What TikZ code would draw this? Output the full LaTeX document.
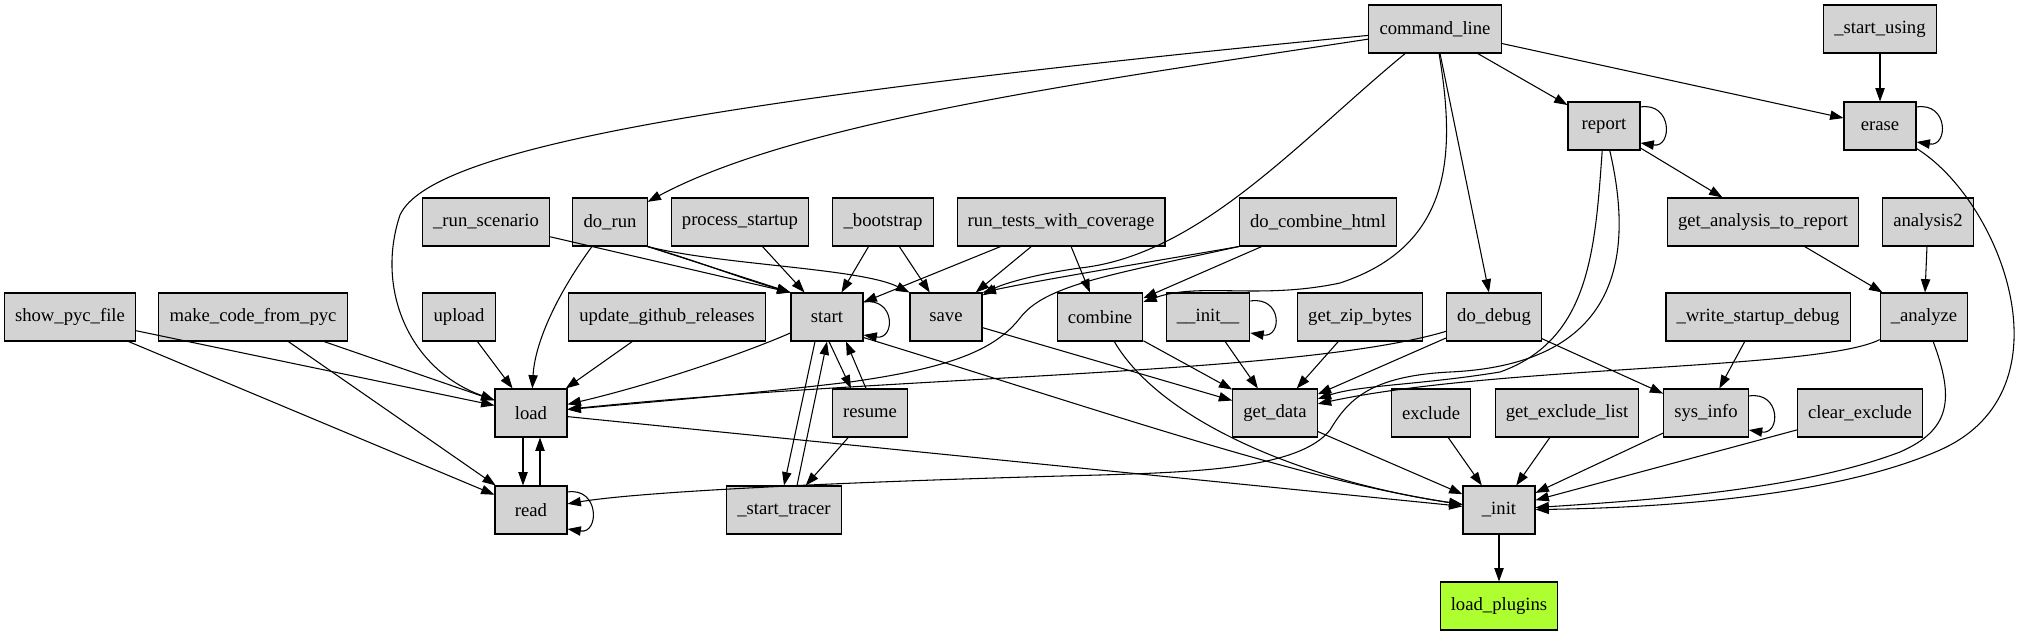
\documentclass[tikz,border=0pt]{standalone}
\usepackage{fontspec}
\setmainfont{Liberation Serif}
\usetikzlibrary{arrows.meta, calc}
\definecolor{fnGrey}{HTML}{D3D3D3}
\definecolor{pluginGreen}{HTML}{ADFF2F}

\begin{document}
\begin{tikzpicture}[x=0.75pt, y=-0.75pt, font=\fontsize{14pt}{16pt}\selectfont,
    fn/.style={draw, line width=0.8pt, fill=fnGrey, minimum width=54pt,
               minimum height=36pt, inner xsep=8pt, inner ysep=0pt},
    call/.style={-{Triangle[length=10pt, width=7pt]}, line width=0.8pt}]
    \useasboundingbox (0,0) rectangle (2026,635);

    \node[fn] (cmdline) at (1435,29) {command\_line};
    \node[fn] (startusing) at (1880,29) {\_start\_using};

    \node[fn] (report) at (1604,126) {report};
    \node[fn] (erase) at (1880,126) {erase};

    \node[fn] (runscen) at (486,222) {\_run\_scenario};
    \node[fn] (dorun) at (610,222) {do\_run};
    \node[fn] (procstart) at (740,222) {process\_startup};
    \node[fn] (bootstrap) at (883,222) {\_bootstrap};
    \node[fn] (runtests) at (1061,222) {run\_tests\_with\_coverage};
    \node[fn] (docombine) at (1318,222) {do\_combine\_html};
    \node[fn] (getanalysis) at (1763,222) {get\_analysis\_to\_report};
    \node[fn] (analysis2) at (1928,222) {analysis2};

    \node[fn] (showpyc) at (70,317) {show\_pyc\_file};
    \node[fn] (makecode) at (253,317) {make\_code\_from\_pyc};
    \node[fn] (upload) at (459,317) {upload};
    \node[fn] (ghrel) at (667,317) {update\_github\_releases};
    \node[fn] (start) at (827,317) {start};
    \node[fn] (save) at (946,317) {save};
    \node[fn] (combine) at (1100,317) {combine};
    \node[fn] (dunderinit) at (1208,317) {\_\_init\_\_};
    \node[fn] (getzip) at (1360,317) {get\_zip\_bytes};
    \node[fn] (dodebug) at (1494,317) {do\_debug};
    \node[fn] (writedebug) at (1758,317) {\_write\_startup\_debug};
    \node[fn] (analyze) at (1924,317) {\_analyze};

    \node[fn] (load) at (531,413) {load};
    \node[fn] (resume) at (870,413) {resume};
    \node[fn] (getdata) at (1275,413) {get\_data};
    \node[fn] (exclude) at (1431,413) {exclude};
    \node[fn] (getexcl) at (1567,413) {get\_exclude\_list};
    \node[fn] (sysinfo) at (1706,413) {sys\_info};
    \node[fn] (clearexcl) at (1860,413) {clear\_exclude};

    \node[fn] (read) at (531,510) {read};
    \node[fn] (starttracer) at (784,510) {\_start\_tracer};
    \node[fn] (init) at (1499,510) {\_init};

    \node[fn, fill=pluginGreen] (plugins) at (1499,606) {load\_plugins};

    \draw[call] (cmdline) .. controls (700,100) and (430,150) .. (400,215)
      .. controls (375,290) and (410,370) .. (load);
    \draw[call] (cmdline) .. controls (1100,80) and (800,120) .. (dorun);
    \draw[call] (cmdline) .. controls (1300,140) and (1200,255) .. (1080,268)
      .. controls (1030,275) and (1000,285) .. (save);
    \draw[call] (cmdline) .. controls (1455,150) and (1455,245) .. (1340,283)
      .. controls (1260,300) and (1200,282) .. (combine);
    \draw[call] (cmdline) -- (report);
    \draw[call] (cmdline) -- (erase);
    \draw[call] (cmdline) -- (dodebug);
    \draw[call] (startusing) -- (erase);
    \draw[call] ($(erase.east)+(0,-19)$) .. controls +(32,-5) and +(32,5) .. ($(erase.east)+(0,16)$);
    \draw[call] (erase) .. controls (2000,200) and (2075,390) .. (1940,450)
      .. controls (1832,498) and (1650,508) .. (init);

    \draw[call] ($(report.east)+(0,-19)$) .. controls +(32,-5) and +(32,5) .. ($(report.east)+(0,17)$);
    \draw[call] (report) -- (getanalysis);
    \draw[call] (report) .. controls (1595,250) and (1590,340) .. (1500,372)
      .. controls (1420,385) and (1360,385) .. (getdata);
    \draw[call] (report) .. controls (1640,280) and (1600,365) .. (1450,372)
      .. controls (1370,376) and (1348,400) .. (1330,430)
      .. controls (1300,468) and (1200,472) .. (1100,475)
      .. controls (900,480) and (650,490) .. (read);
    \draw[call] (getanalysis) -- (analyze);
    \draw[call] (analysis2) -- (analyze);
    \draw[call] (analyze) .. controls (1820,370) and (1500,365) .. (getdata);
    \draw[call] (analyze) .. controls (1955,400) and (1950,430) .. (1900,452)
      .. controls (1800,490) and (1650,500) .. (init);

    \draw[call] (runscen) -- (start.north west);
    \draw[call] (dorun.south east) -- (start.north west);
    \draw[call] (dorun.south east) .. controls (700,262) and (740,278) .. (start.north west);
    \draw[call] (dorun.south east) .. controls (720,265) and (860,268) .. (save.north west);
    \draw[call] (dorun) .. controls (560,290) and (535,340) .. (load);
    \draw[call] (procstart) -- (start);
    \draw[call] (bootstrap) -- (start);
    \draw[call] (bootstrap) -- (save);
    \draw[call] (runtests) -- (start);
    \draw[call] (runtests) -- (save);
    \draw[call] (runtests) -- (combine);
    \draw[call] (docombine.south west) .. controls (1150,262) and (1040,280) .. (save.north east);
    \draw[call] (docombine) -- (combine);
    \draw[call] (docombine.south west) .. controls (1110,275) and (1045,285) .. (1020,318)
      .. controls (995,350) and (950,368) .. (850,382)
      .. controls (750,394) and (650,402) .. (load);

    \draw[call] (showpyc) -- (load);
    \draw[call] (showpyc) -- (read);
    \draw[call] (makecode) -- (load);
    \draw[call] (makecode) -- (read);
    \draw[call] (upload) -- (load);
    \draw[call] (ghrel) -- (load);

    \draw[call] ($(start.east)+(0,-15)$) .. controls +(32,-5) and +(32,5) .. ($(start.east)+(0,18)$);
    \draw[call] (start) .. controls (740,355) and (650,385) .. (load);
    \draw[call] ($(start.south)+(-12,0)$) -- (starttracer.north);
    \draw[call] ($(starttracer.north)+(13,0)$) -- (start.south);
    \draw[call] ($(start.south)+(2,0)$) -- ($(resume.north)+(-19,0)$);
    \draw[call] ($(resume.north)+(-4,0)$) -- ($(start.south)+(19,0)$);
    \draw[call] (resume) -- (starttracer);
    \draw[call] ($(start.south east)+(0,-4)$) .. controls (1100,410) and (1300,480) .. (init);

    \draw[call] (save) -- (getdata);
    \draw[call] (combine) -- (getdata);
    \draw[call] (combine) .. controls (1160,420) and (1300,480) .. (init);
    \draw[call] ($(dunderinit.east)+(0,-16)$) .. controls +(32,-5) and +(32,5) .. ($(dunderinit.east)+(0,16)$);
    \draw[call] (dunderinit) -- (getdata);
    \draw[call] (getzip) -- (getdata);
    \draw[call] (dodebug) .. controls (1300,375) and (900,375) .. (load);
    \draw[call] (dodebug) -- (getdata);
    \draw[call] (dodebug) -- (sysinfo);

    \draw[call] ($(load.south)+(-8,0)$) -- ($(read.north)+(-8,0)$);
    \draw[call] ($(read.north)+(9,0)$) -- ($(load.south)+(9,0)$);
    \draw[call] ($(read.east)+(0,-18)$) .. controls +(32,-5) and +(32,5) .. ($(read.east)+(0,19)$);
    \draw[call] (load) -- (init);

    \draw[call] (getdata) -- (init);
    \draw[call] (exclude) -- (init);
    \draw[call] (getexcl) -- (init);
    \draw[call] (writedebug) -- (sysinfo);
    \draw[call] ($(sysinfo.east)+(0,-17)$) .. controls +(32,-5) and +(32,5) .. ($(sysinfo.east)+(0,17)$);
    \draw[call] (sysinfo) -- (init);
    \draw[call] (clearexcl) -- (init);
    \draw[call] (init) -- (plugins);
\end{tikzpicture}
\end{document}
